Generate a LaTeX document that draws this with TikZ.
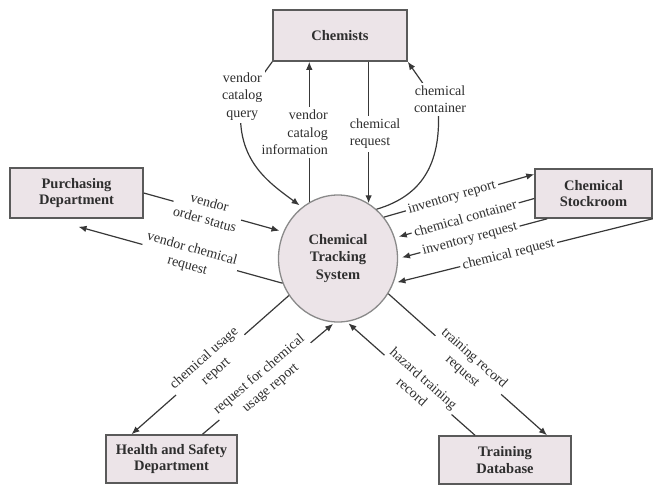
\documentclass[tikz,border=0pt]{standalone}
\usepackage{fontspec}
\setmainfont{Liberation Serif}
\usetikzlibrary{shapes.geometric,arrows.meta}
\definecolor{boxfill}{HTML}{ECE4E8}
\definecolor{boxline}{HTML}{5A5A5A}
\definecolor{ringline}{HTML}{8A8A8A}
\definecolor{flowline}{HTML}{383838}
\definecolor{inktext}{HTML}{2E2E2E}
\begin{document}
\begin{tikzpicture}[x=1pt,y=-1pt,
  entity/.style={draw=boxline, line width=1.5pt, fill=boxfill, inner sep=0pt,
    align=center, text=inktext, font=\fontsize{14.5}{16.5}\selectfont\bfseries},
  process/.style={ellipse, draw=ringline, line width=1.3pt, fill=boxfill, inner sep=0pt,
    align=center, text=inktext, font=\fontsize{14.5}{17.5}\selectfont\bfseries},
  flow/.style={draw=flowline, line width=1.2pt, -{Latex[length=8pt,width=6.5pt]}},
  into/.style={shorten >=4pt},
  lbl/.style={fill=white, inner sep=2.5pt, align=center, text=inktext,
    font=\fontsize{14}{17.5}\selectfont}
]
\useasboundingbox (0,0) rectangle (664,488);

% external entities
\node[entity, minimum width=134pt, minimum height=51pt] (chem)  at (340,35.5)  {Chemists};
\node[entity, minimum width=133pt, minimum height=50pt] (purch) at (76.5,193)  {Purchasing\\Department};
\node[entity, minimum width=117pt, minimum height=49pt] (stock) at (593.5,193.5) {Chemical\\Stockroom};
\node[entity, minimum width=131pt, minimum height=48pt] (hs)    at (171.5,459) {Health and Safety\\Department};
\node[entity, minimum width=132pt, minimum height=48pt] (tdb)   at (505,460)   {Training\\Database};

% the system process
\node[process, minimum width=119pt, minimum height=127pt] (cts) at (338,258.5) {Chemical\\Tracking\\System};

% Chemists flows
\draw[flow, shorten >=3pt] (chem.south west)
  -- node[lbl, pos=0.8, xshift=-5pt]{vendor\\catalog\\query} (241,105)
  .. controls (236,160) and (268,182) .. (cts.125.8);
\draw[flow] (cts.117.6)
  -- node[lbl, pos=0.495, xshift=-14.5pt, align=right, inner sep=3pt]{vendor\\catalog\\information}
  (cts.117.6 |- chem.south);
\draw[flow] (cts.61.3 |- chem.south)
  -- node[lbl, pos=0.508, xshift=6.5pt, align=left, inner sep=3pt]{chemical\\request} (cts.61.3);
\draw[flow] (cts.52.9) .. controls (425,195) and (442,160) .. (438,105)
  -- node[lbl, pos=0.13, xshift=6pt]{chemical\\container} (chem.south east);

% Purchasing flows
\draw[flow, into] (purch.east)
  -- node[lbl, sloped, pos=0.455]{vendor\\order status} (cts.154.7);
\draw[flow] (cts.204)
  -- node[lbl, sloped, pos=0.455]{vendor chemical\\request} ([xshift=2pt,yshift=-8pt]purch.south);

% Stockroom flows
\draw[flow] (cts.42.1)
  -- node[lbl, sloped, pos=0.4525]{inventory report} ([yshift=-6pt]stock.north west);
\draw[flow, into] ([yshift=-5pt]stock.west)
  -- node[lbl, sloped, pos=0.496]{chemical container} (cts.20.8);
\draw[flow, into] ([xshift=13pt]stock.south west)
  -- node[lbl, sloped, pos=0.518]{inventory request} (cts.east);
\draw[flow, into] (stock.south east)
  -- node[lbl, sloped, pos=0.556]{chemical request} (cts.336.9);

% Health and Safety flows
\draw[flow] (cts.217.3)
  -- node[lbl, sloped, pos=0.5]{chemical usage\\report} ([xshift=-40pt]hs.north);
\draw[flow, shorten >=2pt] ([xshift=31pt]hs.north)
  -- node[lbl, sloped, pos=0.473]{request for chemical\\usage report} (cts.267);

% Training Database flows
\draw[flow, shorten >=2pt] ([xshift=-30pt]tdb.north)
  -- node[lbl, sloped, pos=0.445]{hazard training\\record} (cts.278);
\draw[flow] (cts.325)
  -- node[lbl, sloped, pos=0.504]{training record\\request} ([xshift=42pt]tdb.north);
\end{tikzpicture}
\end{document}
